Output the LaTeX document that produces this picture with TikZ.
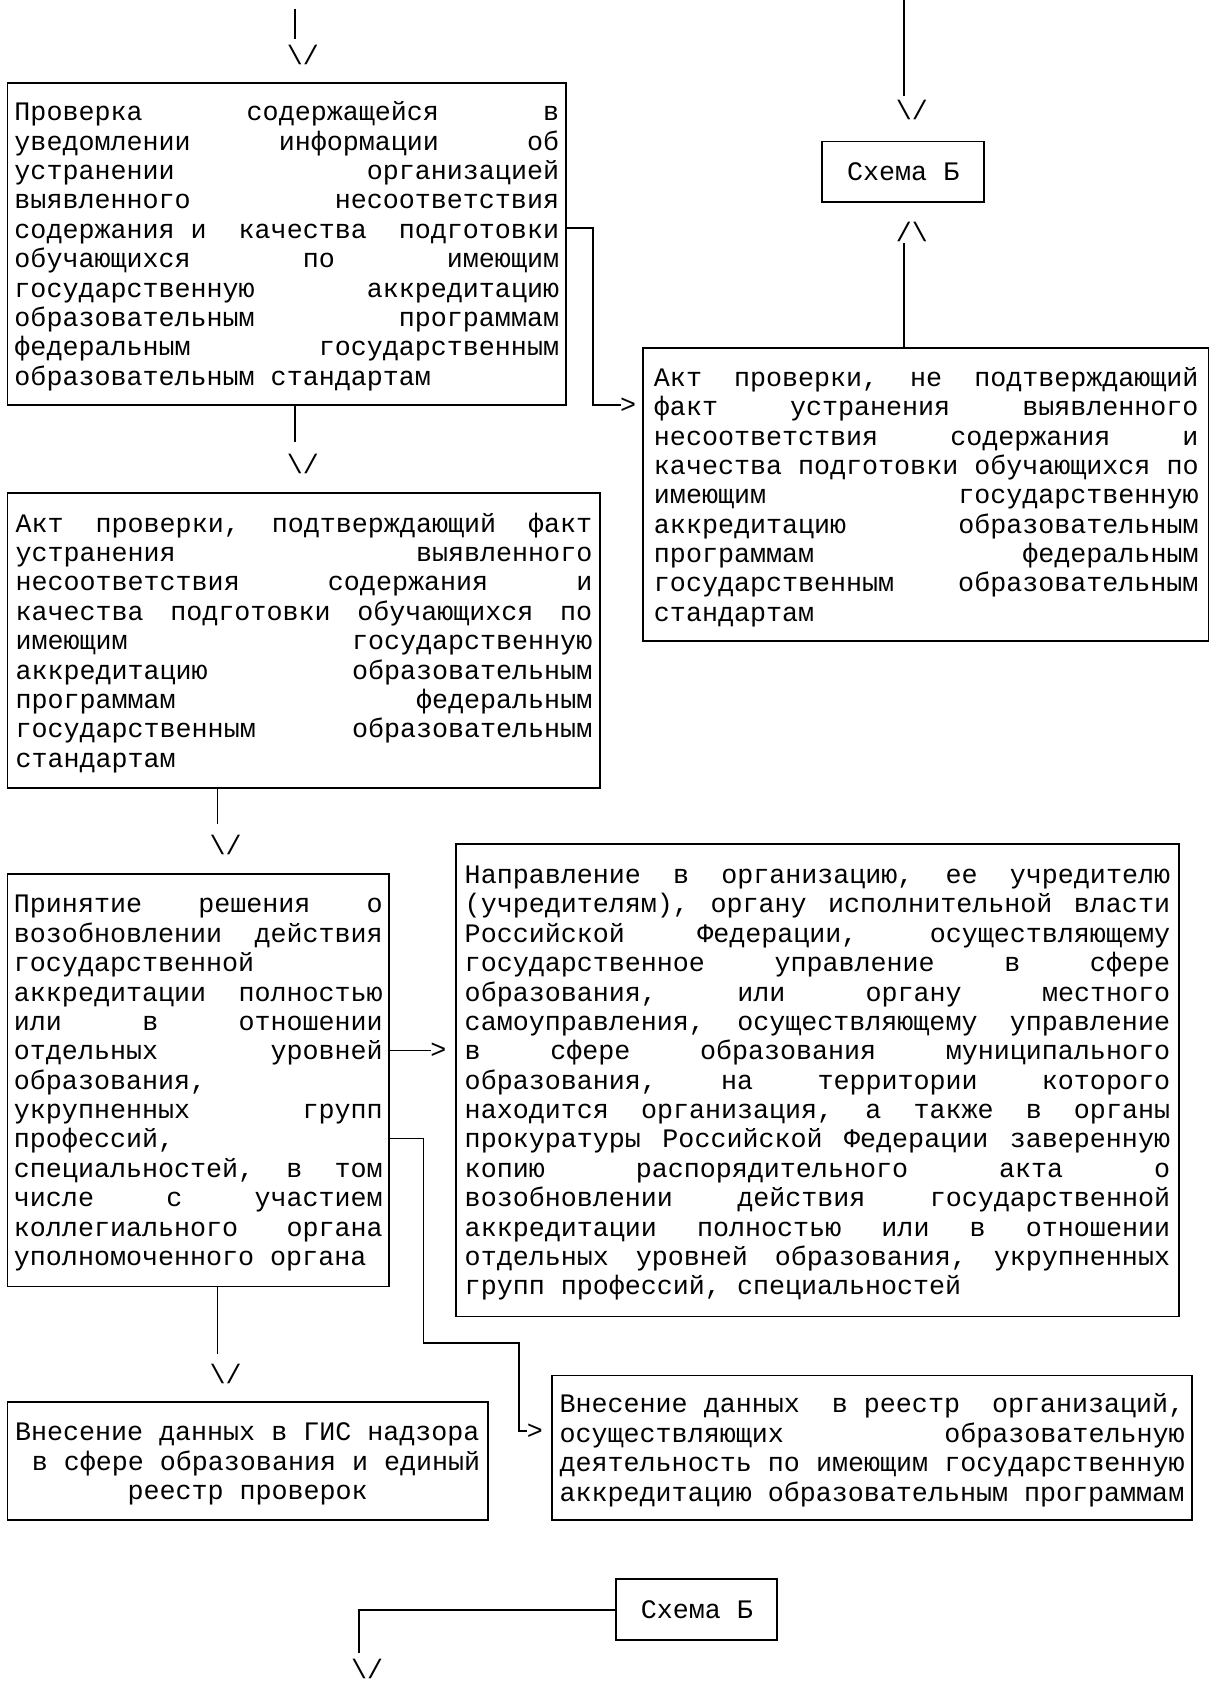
\documentclass[tikz,border=0pt]{standalone}
\usepackage{fontspec}
\newfontfamily\mono{Liberation Mono}
\protected\def\monosetup{\mono\fontsize{24.9}{27.4}\selectfont\frenchspacing\spaceskip=0.6em\relax\xspaceskip=0.6em\relax}
\newcommand\mystrut{\vrule height 22.2pt depth 5.2pt width 0pt\relax}
\newcommand\fixsp{\frenchspacing\spaceskip=0.6em\relax\xspaceskip=\spaceskip}
\newcommand\myjl[1]{\hbox to\linewidth{\frenchspacing\spaceskip=0.6em plus 1fil\relax\xspaceskip=\spaceskip\mystrut#1}}
\newcommand\mylast[1]{\hbox to\linewidth{\fixsp\mystrut#1\hfil}}
\newcommand\myright[1]{\hbox to\linewidth{\fixsp\hfil\mystrut#1}}
\newcommand\mycen[1]{\hbox to\linewidth{\fixsp\hfil\mystrut#1\hfil}}
\begin{document}
\begin{tikzpicture}[x=1pt,y=-1pt,
  box/.style={draw, line width=1.8pt, inner sep=0pt, font=\monosetup},
  glyph/.style={inner sep=0pt, font=\monosetup},
  conn/.style={line width=1.6pt}]
\useasboundingbox (0,0) rectangle (1127,1568);

% boxes
\node[box, minimum width=521, minimum height=301, text width=508] (b1) at (267.5,227.5) {%
\myjl{Проверка содержащейся в}
\myjl{уведомлении информации об}
\myjl{устранении организацией}
\myjl{выявленного несоответствия}
\mylast{содержания и~ качества~ подготовки}
\myjl{обучающихся по имеющим}
\myjl{государственную аккредитацию}
\myjl{образовательным программам}
\myjl{федеральным государственным}
\mylast{образовательным стандартам}};

\node[box, minimum width=528, minimum height=273, text width=508] (b2) at (864,461.5) {%
\myjl{Акт проверки, не подтверждающий}
\myjl{факт устранения выявленного}
\myjl{несоответствия содержания и}
\myjl{качества подготовки обучающихся по}
\myjl{имеющим государственную}
\myjl{аккредитацию образовательным}
\myjl{программам федеральным}
\myjl{государственным образовательным}
\mylast{стандартам}};

\node[box, minimum width=151, minimum height=56] (s1) at (842.5,160) {Схема Б};

\node[box, minimum width=553, minimum height=275, text width=538] (b3) at (283.5,597.5) {%
\myjl{Акт проверки, подтверждающий факт}
\myjl{устранения выявленного}
\myjl{несоответствия содержания и}
\myjl{качества подготовки обучающихся по}
\myjl{имеющим государственную}
\myjl{аккредитацию образовательным}
\myjl{программам федеральным}
\myjl{государственным образовательным}
\mylast{стандартам}};

\node[box, minimum width=356, minimum height=385, text width=344] (b4) at (185,1007.5) {%
\myjl{Принятие решения о}
\myjl{возобновлении действия}
\mylast{государственной}
\myjl{аккредитации полностью}
\myjl{или в отношении}
\myjl{отдельных уровней}
\mylast{образования,}
\myjl{укрупненных групп}
\mylast{профессий,}
\myjl{специальностей, в том}
\myjl{числе с участием}
\myjl{коллегиального органа}
\mylast{уполномоченного органа}};

\node[box, minimum width=675, minimum height=441, text width=658] (b5) at (762.5,1007.5) {%
\myjl{Направление в организацию, ее учредителю}
\myjl{(учредителям), органу исполнительной власти}
\myjl{Российской Федерации, осуществляющему}
\myjl{государственное управление в сфере}
\myjl{образования, или органу местного}
\myjl{самоуправления, осуществляющему управление}
\myjl{в сфере образования муниципального}
\myjl{образования, на территории которого}
\myjl{находится организация, а также в органы}
\myjl{прокуратуры Российской Федерации заверенную}
\myjl{копию распорядительного акта о}
\myjl{возобновлении действия государственной}
\myjl{аккредитации полностью или в отношении}
\myjl{отдельных уровней образования, укрупненных}
\mylast{групп профессий, специальностей}};

\node[box, minimum width=597, minimum height=135, text width=583] (b6) at (813.5,1350.5) {%
\mylast{Внесение данных~ в реестр~ организаций,}
\myjl{осуществляющих образовательную}
\myjl{деятельность по имеющим государственную}
\mylast{аккредитацию образовательным программам}};

\node[box, minimum width=448, minimum height=110, text width=434] (b7) at (231,1363) {%
\mylast{Внесение данных в ГИС надзора}
\myright{в сфере образования и единый}
\mycen{реестр проверок}};

\node[box, minimum width=150, minimum height=57] (s2) at (650,1501.5) {Схема Б};

% connectors
\coordinate (p1) at (275,8);
\draw[conn] (p1) -- ++(0,28);
\node[glyph] (a1) at (282.5,51) {\textbackslash/};

\draw[conn] (b1.south -| p1) -- ++(0,33);
\node[glyph] (a2) at (282.5,433) {\textbackslash/};

\coordinate (p3) at (553,213);
\coordinate (p3b) at (579,378);
\draw[conn] (b1.east |- p3) -- (p3) |- (p3b);
\node[glyph] (g1) at (586,378) {>};

\coordinate (p4) at (843,0);
\draw[conn] (p4) -- ++(0,90);
\node[glyph] (a3) at (850.5,103) {\textbackslash/};
\node[glyph] (a4) at (850.5,216) {/\textbackslash};
\draw[conn] (b2.north -| p4) -- ++(0,-97);

\coordinate (p6) at (203,0);
\draw[conn] (b3.south -| p6) -- ++(0,33);
\node[glyph] (a5) at (210.5,788) {\textbackslash/};

\coordinate (p7) at (402,980);
\draw[conn] (b4.east |- p7) -- (p7);
\node[glyph] (g2) at (409,980) {>};

\coordinate (p8) at (395,1062);
\coordinate (p8b) at (484,1253);
\coordinate (p8c) at (492,1335);
\draw[conn] (b4.east |- p8) -- (p8) |- (p8b) |- (p8c);
\node[glyph] (g3) at (499,1335) {>};

\draw[conn] (b4.south -| p6) -- ++(0,62);
\node[glyph] (a6) at (210.5,1282) {\textbackslash/};

\coordinate (p10) at (335,1542);
\draw[conn] (s2.west) -| (p10);
\node[glyph] (a7) at (342.5,1557) {\textbackslash/};
\end{tikzpicture}
\end{document}
